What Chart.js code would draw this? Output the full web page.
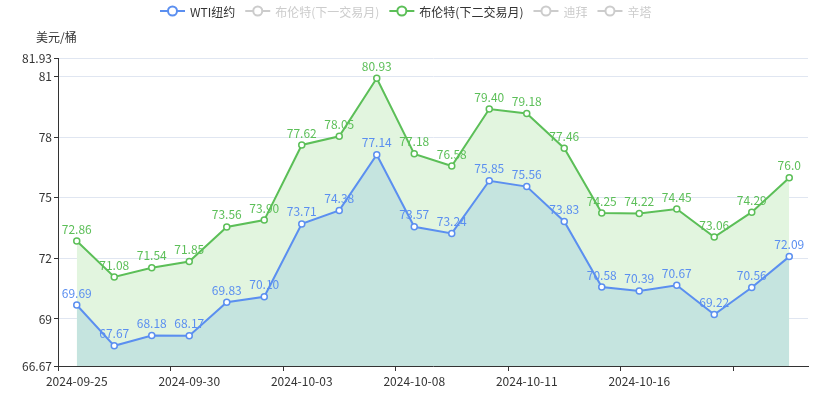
<!DOCTYPE html>
<html>
<head>
<meta charset="utf-8">
<script src="https://cdn.jsdelivr.net/npm/chart.js@4/dist/chart.umd.min.js"></script>
<style>
  html, body { margin: 0; padding: 0; background: #fff; }
  #wrap { width: 833px; height: 394px; position: relative; }
</style>
</head>
<body>
<div id="wrap"><canvas id="oilChart"></canvas></div>
<script>
// trading days shown on the x axis
const dates = [
    '2024-09-25', '2024-09-26', '2024-09-27', '2024-09-30', '2024-10-01',
    '2024-10-02', '2024-10-03', '2024-10-04', '2024-10-07', '2024-10-08',
    '2024-10-09', '2024-10-10', '2024-10-11', '2024-10-14', '2024-10-15',
    '2024-10-16', '2024-10-17', '2024-10-18', '2024-10-21', '2024-10-22'
];
// WTI纽约
const wtiValues = [
    '69.69', '67.67', '68.18', '68.17', '69.83',
    '70.10', '73.71', '74.38', '77.14', '73.57',
    '73.24', '75.85', '75.56', '73.83', '70.58',
    '70.39', '70.67', '69.22', '70.56', '72.09'
];
// 布伦特(下二交易月)
const brentValues = [
    '72.86', '71.08', '71.54', '71.85', '73.56',
    '73.90', '77.62', '78.05', '80.93', '77.18',
    '76.58', '79.40', '79.18', '77.46', '74.25',
    '74.22', '74.45', '73.06', '74.29', '76.0'
];
const yTicks = [66.67, 69, 72, 75, 78, 81, 81.93];
const legendNames = ['WTI纽约', '布伦特(下一交易月)', '布伦特(下二交易月)', '迪拜', '辛塔'];
const legendOn = [true, false, true, false, false];

const FONT = '"Microsoft YaHei", "Noto Sans CJK SC", sans-serif';
const BLUE = '#5B8FF0';
const GREEN = '#5CBF58';
const legendColors = [BLUE, '#ccc', GREEN, '#ccc', '#ccc'];

// labels above every point
const valueLabels = {
    id: 'valueLabels',
    afterDatasetsDraw(chart) {
        const ctx = chart.ctx;
        ctx.save();
        ctx.font = '12px ' + FONT;
        ctx.textAlign = 'center';
        ctx.textBaseline = 'bottom';
        chart.data.datasets.forEach((ds, di) => {
            const meta = chart.getDatasetMeta(di);
            ctx.fillStyle = ds.borderColor;
            meta.data.forEach((pt, i) => {
                ctx.fillText(ds.data[i], pt.x, pt.y - 6);
            });
        });
        ctx.restore();
    }
};

// echarts style legend + unit text
const topDecor = {
    id: 'topDecor',
    afterDraw(chart) {
        const ctx = chart.ctx;
        const area = chart.chartArea;
        ctx.save();
        ctx.font = '12px ' + FONT;
        ctx.textBaseline = 'middle';
        ctx.textAlign = 'left';
        ctx.fillStyle = '#333';
        ctx.fillText('美元/桶', area.left - 22, 37);

        let x = 160;
        const y = 11;
        legendNames.forEach((name, i) => {
            const c = legendColors[i];
            ctx.strokeStyle = c;
            ctx.lineWidth = 2;
            ctx.beginPath();
            ctx.moveTo(x, y);
            ctx.lineTo(x + 25, y);
            ctx.stroke();
            ctx.beginPath();
            ctx.arc(x + 12.5, y, 4.5, 0, Math.PI * 2);
            ctx.fillStyle = '#fff';
            ctx.fill();
            ctx.stroke();
            ctx.fillStyle = legendOn[i] ? '#333' : '#ccc';
            ctx.fillText(name, x + 30, y + 1);
            x += 30 + ctx.measureText(name).width + 10;
        });
        ctx.restore();
    }
};

const ctx = document.getElementById('oilChart').getContext('2d');
const myChart = new Chart(ctx, {
    type: 'line',
    data: {
        labels: dates,
        datasets: [{
            label: 'WTI纽约',
            data: wtiValues,
            borderColor: BLUE,
            backgroundColor: '#C5E4DF',
            fill: 'origin',
            borderWidth: 2,
            pointRadius: 3,
            pointBorderWidth: 1.5,
            pointBackgroundColor: '#fff',
            tension: 0
        }, {
            label: '布伦特(下二交易月)',
            data: brentValues,
            borderColor: GREEN,
            backgroundColor: '#E2F5DF',
            fill: 'origin',
            borderWidth: 2,
            pointRadius: 3,
            pointBorderWidth: 1.5,
            pointBackgroundColor: '#fff',
            tension: 0
        }]
    },
    options: {
        responsive: true,
        maintainAspectRatio: false,
        animation: false,
        layout: { padding: { left: 0, top: 58, right: 25, bottom: 0 } },
        plugins: {
            legend: { display: false },
            tooltip: { enabled: false }
        },
        scales: {
            x: {
                type: 'category',
                offset: true,
                afterFit: scale => { scale.height = 28; },
                grid: {
                    offset: true,
                    drawOnChartArea: false,
                    tickLength: 5,
                    tickColor: c => (c.index % 3 === 0 && c.index < dates.length) ? '#333' : 'rgba(0,0,0,0)'
                },
                border: { display: true, color: '#333', width: 1 },
                ticks: {
                    autoSkip: false,
                    maxRotation: 0,
                    padding: 3,
                    color: '#333',
                    font: { size: 12, family: FONT },
                    callback: (val, i) => (i % 3 === 0 && i !== 18) ? dates[i] : ''
                }
            },
            y: {
                min: 66.67,
                max: 81.93,
                afterFit: scale => { scale.width = 58; },
                afterBuildTicks: scale => {
                    scale.ticks = yTicks.map(v => ({ value: v }));
                },
                grid: {
                    color: '#E0E6F1',
                    tickLength: 4,
                    tickColor: '#333'
                },
                border: { display: true, color: '#333', width: 1 },
                ticks: {
                    padding: 2,
                    color: '#333',
                    font: { size: 12, family: FONT },
                    callback: v => String(v)
                }
            }
        }
    },
    plugins: [valueLabels, topDecor]
});
</script>
</body>
</html>
